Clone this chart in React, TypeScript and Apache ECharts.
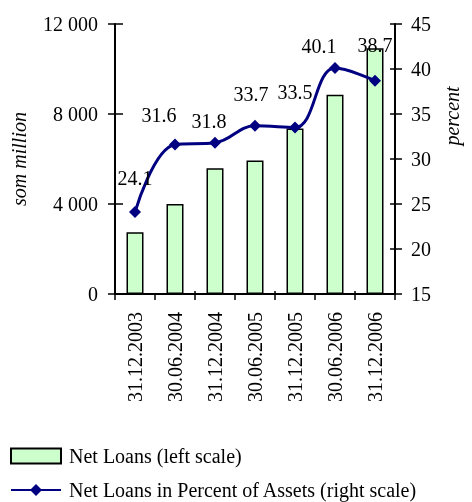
import React, { useEffect, useRef } from "react";
import * as echarts from "echarts";

const categories = ["31.12.2003", "30.06.2004", "31.12.2004", "30.06.2005", "31.12.2005", "30.06.2006", "31.12.2006"];
const netLoans = [2750, 4000, 5590, 5930, 7360, 8860, 10920];
const percentOfAssets = [24.1, 31.6, 31.8, 33.7, 33.5, 40.1, 38.7];
const labelOffsets = [[0, -34], [-16, -30], [-6, -22], [-4, -32], [0, -36], [-16, -22], [0, -36]];

const FONT = "'Liberation Serif', 'Times New Roman', serif";
const FS = 20;

export default function App() {
  const ref = useRef<HTMLDivElement>(null);
  useEffect(() => {
    const chart = echarts.init(ref.current!, null, { renderer: "svg" });
    const fmt = (v: number) => String(v).replace(/\B(?=(\d{3})+(?!\d))/g, " ");
    chart.setOption({
      animation: false,
      textStyle: { fontFamily: FONT },
      grid: { left: 115, right: 77, top: 24, bottom: 208, containLabel: false },
      legend: {
        orient: "vertical",
        left: 10,
        top: 446,
        height: 56,
        padding: 0,
        itemWidth: 50,
        itemHeight: 15,
        itemGap: 14,
        textStyle: { fontFamily: FONT, fontSize: FS, color: "#000", padding: [0, 0, 0, 3] },
        data: [
          { name: "Net Loans (left scale)", icon: "rect" },
          { name: "Net Loans in Percent of Assets (right scale)" },
        ],
      },
      xAxis: [
        {
          type: "category",
          data: categories,
          boundaryGap: true,
          axisLine: { lineStyle: { color: "#000", width: 2 } },
          axisTick: { show: true, length: 6, lineStyle: { color: "#000", width: 1.5 } },
          axisLabel: { rotate: 90, color: "#000", fontSize: FS, fontFamily: FONT, margin: 18, interval: 0 },
        },
        {
          type: "category",
          data: categories,
          position: "bottom",
          boundaryGap: true,
          axisLine: { show: false },
          axisTick: { show: true, inside: true, length: 3, lineStyle: { color: "#000", width: 1.5 } },
          axisLabel: { show: false },
        },
      ],
      yAxis: [
        {
          type: "value",
          position: "left",
          min: 0,
          max: 12000,
          interval: 4000,
          name: "som million",
          nameLocation: "middle",
          nameRotate: 90,
          nameGap: 86,
          nameTextStyle: { fontFamily: FONT, fontSize: FS, fontStyle: "italic", color: "#000" },
          axisLine: { show: true, lineStyle: { color: "#000", width: 2 } },
          axisTick: { show: true, length: 7, lineStyle: { color: "#000", width: 1.5 } },
          axisLabel: { color: "#000", fontSize: FS, fontFamily: FONT, margin: 17, formatter: fmt },
          splitLine: { show: false },
        },
        {
          type: "value",
          position: "right",
          min: 15,
          max: 45,
          interval: 5,
          axisLine: { show: true, lineStyle: { color: "#000", width: 2 } },
          axisTick: { show: true, length: 7, lineStyle: { color: "#000", width: 1.5 } },
          axisLabel: { color: "#000", fontSize: FS, fontFamily: FONT, margin: 16 },
          splitLine: { show: false },
        },
        {
          type: "value",
          position: "left",
          min: 0,
          max: 12000,
          interval: 4000,
          axisLine: { show: false },
          axisTick: { show: true, inside: true, length: 8, lineStyle: { color: "#000", width: 1.5 } },
          axisLabel: { show: false },
          splitLine: { show: false },
        },
        {
          type: "value",
          position: "right",
          min: 15,
          max: 45,
          interval: 5,
          axisLine: { show: false },
          axisTick: { show: true, inside: true, length: 5, lineStyle: { color: "#000", width: 1.5 } },
          axisLabel: { show: false },
          splitLine: { show: false },
        },
      ],
      graphic: [
        {
          type: "text",
          x: 452,
          y: 116,
          rotation: Math.PI / 2,
          style: {
            text: "percent",
            fontFamily: FONT,
            fontSize: FS,
            fontStyle: "italic",
            fill: "#000",
            align: "center",
            verticalAlign: "middle",
          },
        },
      ],
      series: [
        {
          name: "Net Loans (left scale)",
          type: "bar",
          xAxisIndex: 0,
          yAxisIndex: 0,
          data: netLoans,
          barWidth: 17,
          itemStyle: { color: "#CCFFCC", borderColor: "#000", borderWidth: 1.5 },
        },
        {
          name: "Net Loans in Percent of Assets (right scale)",
          type: "line",
          xAxisIndex: 0,
          yAxisIndex: 1,
          smooth: 0.4,
          data: percentOfAssets.map((v, i) => ({
            value: v,
            label: { offset: labelOffsets[i] },
          })),
          symbol: "diamond",
          symbolSize: 12,
          lineStyle: { color: "#000080", width: 3 },
          itemStyle: { color: "#000080" },
          label: {
            show: true,
            position: "inside",
            color: "#000",
            fontFamily: FONT,
            fontSize: FS,
            formatter: (p: any) => p.value.toFixed(1),
          },
          z: 5,
        },
      ],
    });
    return () => chart.dispose();
  }, []);
  return <div ref={ref} style={{ position: "fixed", left: 0, top: 0, width: 472, height: 502 }} />;
}
